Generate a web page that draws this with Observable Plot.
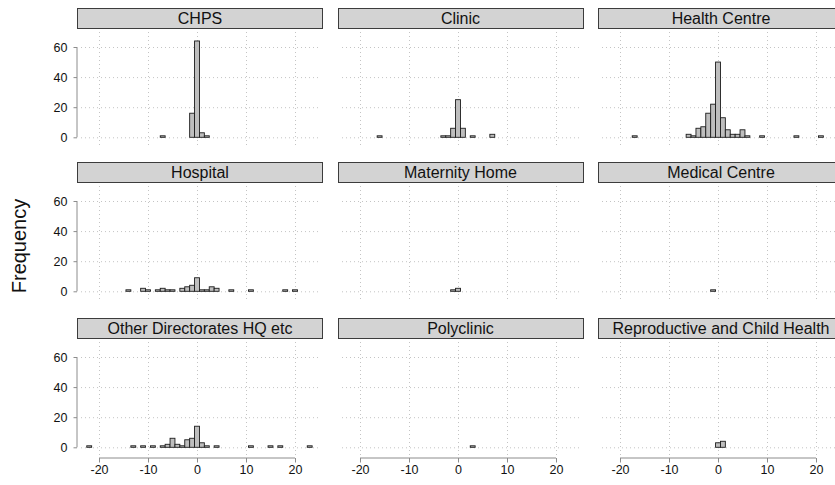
<!DOCTYPE html>
<html>
<head>
<meta charset="utf-8">
<script src="https://cdn.jsdelivr.net/npm/d3@7"></script>
<script src="https://cdn.jsdelivr.net/npm/@observablehq/plot@0.6"></script>
<style>
  body { margin: 0; background: #fff; }
  #chart { position: relative; width: 835px; height: 485px; overflow: hidden; background: #fff;
           font-family: "Liberation Sans", Arial, Helvetica, sans-serif; color: #111; }
  .strip { position: absolute; box-sizing: border-box; width: 246px; height: 21px; background: #d3d3d3;
           border: 1px solid #3c3c3c; font-size: 16px; line-height: 19px; text-align: center; white-space: nowrap; color: #111; }
  .panel { position: absolute; }
  .ylab { position: absolute; left: 19px; top: 246px; transform: translate(-50%, -50%) rotate(-90deg);
          font-size: 20px; white-space: nowrap; color: #111; }
</style>
</head>
<body>
<div id="chart"><div class="ylab">Frequency</div></div>
<script>
// ---- data (bins are integer-centred, width 1) ----
const facilities = ["CHPS", "Clinic", "Health Centre", "Hospital", "Maternity Home", "Medical Centre",
                    "Other Directorates HQ etc", "Polyclinic", "Reproductive and Child Health"];

const chpsBins = [-7, -1, 0, 1, 2];
const chpsFreq = [1, 16, 64, 3, 1];
const clinicBins = [-16, -3, -2, -1, 0, 1, 3, 7];
const clinicFreq = [1, 1, 1, 6, 25, 6, 1, 2];
const healthCentreBins = [-17, -6, -5, -4, -3, -2, -1, 0, 1, 2, 3, 4, 5, 6, 9, 16, 21];
const healthCentreFreq = [1, 2, 1, 6, 7, 16, 22, 50, 13, 5, 2, 2, 5, 1, 1, 1, 1];
const hospitalBins = [-14, -11, -10, -8, -7, -6, -5, -3, -2, -1, 0, 1, 2, 3, 4, 7, 11, 18, 20];
const hospitalFreq = [1, 2, 1, 1, 2, 1, 1, 2, 3, 4, 9, 1, 1, 3, 2, 1, 1, 1, 1];
const maternityBins = [-1, 0];
const maternityFreq = [1, 2];
const medicalBins = [-1];
const medicalFreq = [1];
const otherBins = [-22, -13, -11, -9, -7, -6, -5, -4, -3, -2, -1, 0, 1, 2, 4, 11, 15, 17, 23];
const otherFreq = [1, 1, 1, 1, 1, 2, 6, 2, 1, 5, 6, 14, 3, 1, 1, 1, 1, 1, 1];
const polyclinicBins = [3];
const polyclinicFreq = [1];
const rchBins = [0, 1];
const rchFreq = [3, 4];

const xTicks = [-20, -10, 0, 10, 20];
const yTicks = [0, 20, 40, 60];

const series = [
  [chpsBins, chpsFreq], [clinicBins, clinicFreq], [healthCentreBins, healthCentreFreq],
  [hospitalBins, hospitalFreq], [maternityBins, maternityFreq], [medicalBins, medicalFreq],
  [otherBins, otherFreq], [polyclinicBins, polyclinicFreq], [rchBins, rchFreq]
];

// ---- layout ----
const chart = document.getElementById("chart");
const rowTop = [7.5, 162, 317.5];
const colLeft = [77, 337.5, 598];
const frameW = 239, frameH = 116;

const axisGray = "#8c8c8c";
const gridGray = "#c4c4c4";

facilities.forEach((name, i) => {
  const r = Math.floor(i / 3), c = i % 3;
  const [bins, freq] = series[i];
  const data = bins.map((b, k) => ({bin: b, freq: freq[k]}));

  const strip = document.createElement("div");
  strip.className = "strip";
  strip.style.left = colLeft[c] + "px";
  strip.style.top = rowTop[r] + "px";
  strip.textContent = name;
  chart.appendChild(strip);

  const isLeft = c === 0, isBottom = r === 2;
  const ML = isLeft ? colLeft[0] + 4 : 4;
  const MR = 3, MT = 3, MB = isBottom ? 28 : 2;

  const marks = [
    Plot.ruleY(yTicks, {stroke: gridGray, strokeDasharray: "1,3", strokeWidth: 1}),
    Plot.ruleX(xTicks, {stroke: gridGray, strokeDasharray: "1,3", strokeWidth: 1}),
    Plot.rectY(data, {x1: d => d.bin - 0.5, x2: d => d.bin + 0.5, y: "freq",
                      fill: "#bebebe", stroke: "#1c1c1c", strokeWidth: 0.9})
  ];
  if (isLeft) {
    marks.push(Plot.axisY(yTicks, {anchor: "left", tickSize: 3.5, tickPadding: 6.5, dx: -4, label: null,
                                   stroke: axisGray, fill: "#111", fontSize: 12.5, tickFormat: d => String(d)}));
    marks.push((index, scales, values, dims) => {
      const x0 = dims.marginLeft - 4;
      return d3.create("svg:line").attr("x1", x0).attr("x2", x0)
        .attr("y1", scales.y(0)).attr("y2", scales.y(60))
        .attr("stroke", axisGray).node();
    });
  }
  if (isBottom) {
    marks.push(Plot.axisX(xTicks, {anchor: "bottom", tickSize: 4.5, tickPadding: 2, label: null,
                                   stroke: axisGray, fill: "#111", fontSize: 12.5, tickFormat: d => String(d)}));
    marks.push((index, scales, values, dims) => {
      const y0 = dims.height - dims.marginBottom;
      return d3.create("svg:line").attr("x1", scales.x(-20)).attr("x2", scales.x(20))
        .attr("y1", y0).attr("y2", y0).attr("stroke", axisGray).node();
    });
  }

  const svg = Plot.plot({
    width: ML + frameW + MR,
    height: MT + frameH + MB,
    marginLeft: ML, marginRight: MR, marginTop: MT, marginBottom: MB,
    x: {domain: [-20, 20], insetLeft: 18, insetRight: 25, axis: null},
    y: {domain: [0, 60], insetTop: 15, insetBottom: 10.7, axis: null},
    style: {background: "transparent", fontFamily: "'Liberation Sans', Arial, Helvetica, sans-serif",
            fontSize: "12.5px", color: "#111", overflow: "visible"},
    marks
  });
  svg.classList.add("panel");
  svg.style.position = "absolute";
  svg.style.left = (isLeft ? 0 : colLeft[c]) + "px";
  svg.style.top = (rowTop[r] + 21) + "px";
  chart.appendChild(svg);
});
</script>
</body>
</html>
